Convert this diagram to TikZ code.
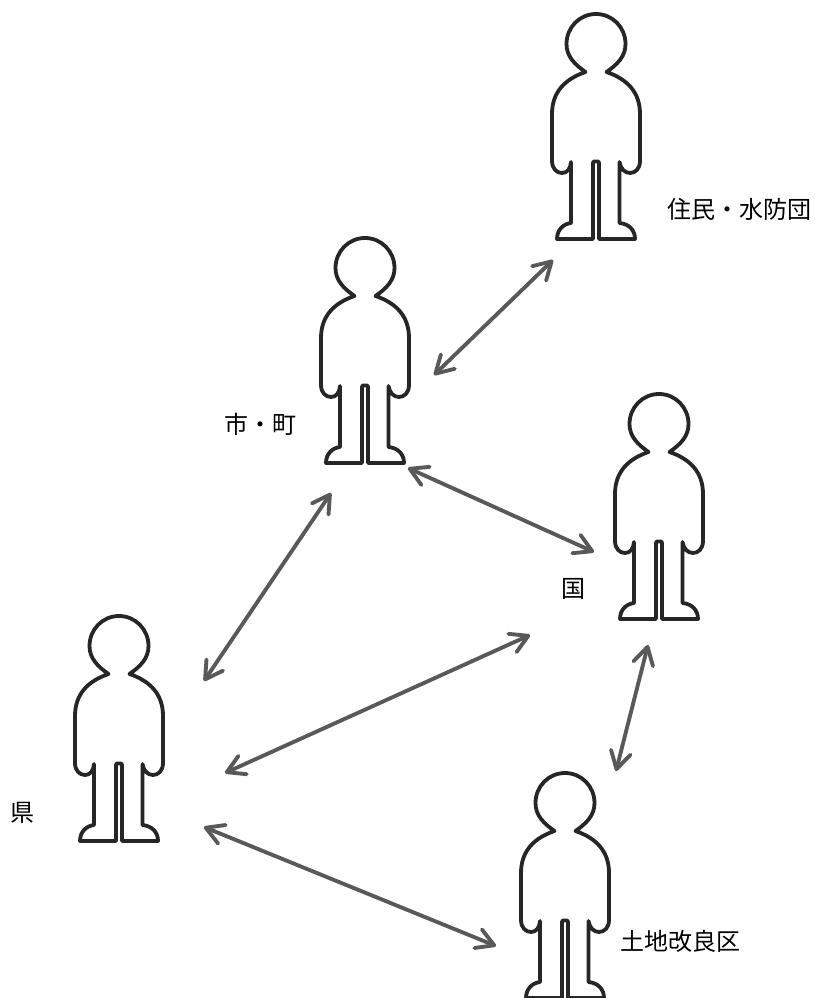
\documentclass[tikz,border=0pt]{standalone}
\usepackage{fontspec}
\setmainfont{Noto Sans CJK JP}
\usetikzlibrary{arrows.meta}
\definecolor{figline}{HTML}{262626}
\definecolor{arrowgrey}{HTML}{595959}
\tikzset{
  x=0.75pt,y=-0.75pt,
  personline/.style={draw=figline,line width=2.85pt,line join=round,line cap=round,fill=white},
  link/.style={draw=arrowgrey,line width=2.9pt,line cap=round,
    {Straight Barb[length=13pt,width=15pt,line width=2.9pt,round]}-{Straight Barb[length=13pt,width=15pt,line width=2.9pt,round]}},
  lbl/.style={inner sep=0pt,font=\fontsize{18pt}{20pt}\selectfont,text=black},
  pics/person/.style={code={
    \path[personline]
      (-10.5,58) .. controls (-22,50) and (-29.5,42) .. (-29.5,30)
      .. controls (-29.5,13.5) and (-16.5,0) .. (0,0)
      .. controls (16.5,0) and (29.5,13.5) .. (29.5,30)
      .. controls (29.5,42) and (22,50) .. (10.5,58)
      .. controls (31,65) and (44,78) .. (44,100)
      -- (44,147)
      .. controls (44,155) and (39,159) .. (34,159)
      .. controls (29,159) and (24.5,155) .. (23.5,148)
      -- (23.5,209)
      .. controls (33,210) and (39,216) .. (39,225)
      -- (3,225) -- (3,149) -- (2.3,147.5) -- (-2.3,147.5) -- (-3,149) -- (-3,225)
      -- (-39,225)
      .. controls (-39,216) and (-33,210) .. (-25,209)
      -- (-25,148)
      .. controls (-25.5,155) and (-29,159) .. (-34,159)
      .. controls (-39,159) and (-44,155) .. (-44,147)
      -- (-44,100)
      .. controls (-44,78) and (-31,65) .. (-10.5,58) -- cycle;
  }}
}
\begin{document}
\begin{tikzpicture}
\useasboundingbox (0,0) rectangle (814,998);
\pic (pA) at (596,14) {person};
\pic (pB) at (365,238) {person};
\pic (pC) at (659,394) {person};
\pic (pD) at (119,616) {person};
\pic (pE) at (565,773) {person};
\node[lbl] (tA) at (739.5,209) {住民・水防団};
\node[lbl] (tB) at (260,424) {市・町};
\node[lbl] (tC) at (573,589) {国};
\node[lbl] (tD) at (23,813) {県};
\node[lbl] (tE) at (680,941) {土地改良区};
\coordinate (a1) at (553,260); \coordinate (a2) at (434,375);
\coordinate (b1) at (331,493); \coordinate (b2) at (204,681);
\coordinate (c1) at (408,468); \coordinate (c2) at (594,552);
\coordinate (d1) at (530,635); \coordinate (d2) at (225,773);
\coordinate (e1) at (648,645); \coordinate (e2) at (616,771);
\coordinate (f1) at (204,827); \coordinate (f2) at (496,946);
\draw[link] (a1) -- (a2);
\draw[link] (b1) -- (b2);
\draw[link] (c1) -- (c2);
\draw[link] (d1) -- (d2);
\draw[link] (e1) -- (e2);
\draw[link] (f1) -- (f2);
\end{tikzpicture}
\end{document}
